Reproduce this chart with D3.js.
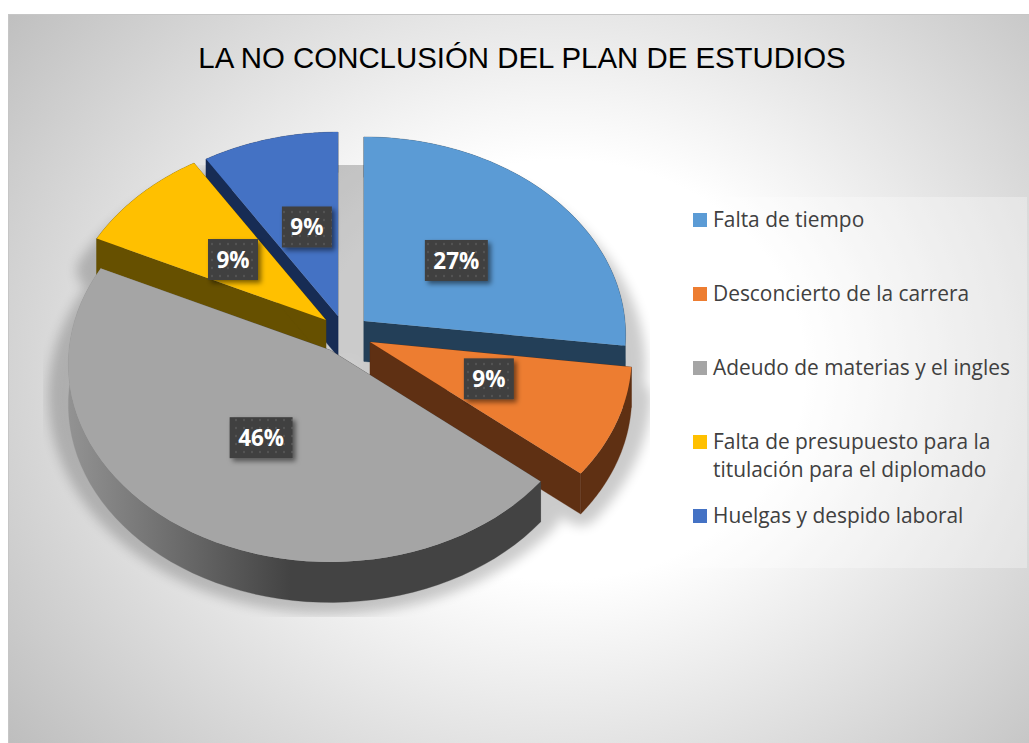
<!DOCTYPE html>
<html>
<head>
<meta charset="utf-8">
<script src="https://cdn.jsdelivr.net/npm/d3@7"></script>
<style>
html, body { margin: 0; padding: 0; background: #fff; }
svg { display: block; }
</style>
</head>
<body>
<div id="chart"></div>
<script>
/* La no conclusion del plan de estudios - exploded 3D pie */

var chartTitle = "LA NO CONCLUSIÓN DEL PLAN DE ESTUDIOS";
var categories = ["Falta de tiempo", "Desconcierto de la carrera", "Adeudo de materias y el ingles",
                  "Falta de presupuesto para la titulación para el diplomado", "Huelgas y despido laboral"];
var values = [27, 9, 46, 9, 9];
var legendLines = [["Falta de tiempo"], ["Desconcierto de la carrera"], ["Adeudo de materias y el ingles"],
                   ["Falta de presupuesto para la", "titulación para el diplomado"], ["Huelgas y despido laboral"]];
var topColors = ["#5b9bd5", "#ed7d31", "#a5a5a5", "#ffc000", "#4472c4"];
var wallColors = ["#233f58", "#5f3013", "url(#grayWall)", "#665000", "#172c54"];
var explodeX = [0.107, 0.113, 0.093, 0.087, 0.069];
var explodeY = [0.108, 0.09, 0.09, 0.115, 0.1];
var labelRadiusX = [0.494, 0.482, 0.463, 0.497, 0.456];
var labelRadiusY = [0.486, 0.457, 0.496, 0.486, 0.503];
var paintOrder = [4, 0, 3, 1, 2];

var width = 1029, height = 743;
var cx = 343, cy = 335;      // pie centre before explosion
var rx = 261, ry = 197;      // ellipse radii of the tilted pie
var persp = 0.0707;          // front of the pie looks bigger
var depth = 40.5;

var svg = d3.select("#chart").append("svg")
    .attr("width", width)
    .attr("height", height);

var defs = svg.append("defs");

var bg = defs.append("radialGradient")
    .attr("id", "bg")
    .attr("gradientUnits", "userSpaceOnUse")
    .attr("cx", 0).attr("cy", 0).attr("r", 1)
    .attr("gradientTransform", "translate(560,370) scale(700,600)");
bg.append("stop").attr("offset", "0.35").attr("stop-color", "#ffffff");
bg.append("stop").attr("offset", "1").attr("stop-color", "#bebebe");

var wallGrad = defs.append("linearGradient")
    .attr("id", "grayWall")
    .attr("gradientUnits", "userSpaceOnUse")
    .attr("x1", 70).attr("x2", 290).attr("y1", 0).attr("y2", 0);
wallGrad.append("stop").attr("offset", "0").attr("stop-color", "#929292");
wallGrad.append("stop").attr("offset", "1").attr("stop-color", "#434343");

defs.append("filter").attr("id", "pieBlur")
    .attr("x", "-20%").attr("y", "-20%").attr("width", "140%").attr("height", "140%")
    .append("feGaussianBlur").attr("stdDeviation", 6);

defs.append("clipPath").attr("id", "shadowClip")
    .append("rect").attr("x", 43).attr("y", 165).attr("width", 607).attr("height", 452);

var labelShadow = defs.append("filter").attr("id", "labelShadow")
    .attr("x", "-30%").attr("y", "-30%").attr("width", "170%").attr("height", "170%");
labelShadow.append("feDropShadow")
    .attr("dx", 3).attr("dy", 3).attr("stdDeviation", 2.5)
    .attr("flood-color", "#000").attr("flood-opacity", 0.5);

var dots = defs.append("pattern").attr("id", "dots")
    .attr("patternUnits", "userSpaceOnUse")
    .attr("width", 8).attr("height", 8);
dots.append("rect").attr("width", 8).attr("height", 8).attr("fill", "#404040");
dots.append("circle").attr("cx", 4).attr("cy", 4).attr("r", 1.2).attr("fill", "#525252");

// background
svg.append("rect")
    .attr("x", 8.5).attr("y", 14.5)
    .attr("width", width).attr("height", height)
    .attr("fill", "url(#bg)")
    .attr("stroke", "#c6c6c6");

// title
svg.append("text")
    .attr("x", 522).attr("y", 68)
    .attr("text-anchor", "middle")
    .style("font-family", "'Liberation Sans'")
    .style("font-size", "29.4px")
    .attr("fill", "#000")
    .text(chartTitle);

// pie
var arcs = d3.pie().sort(null)(values);
var line = d3.line();

function apexOf(d, i) {
    var mid = (d.startAngle + d.endAngle) / 2;
    return [cx + explodeX[i] * rx * Math.sin(mid), cy - explodeY[i] * ry * Math.cos(mid)];
}

function rimPoint(apex, a, kx, ky) {
    var u = Math.sin(a), v = -Math.cos(a);
    var s = 1 / (1 - persp * v);
    return [apex[0] + kx * rx * u * s, apex[1] + ky * ry * v * s];
}

function rimPoints(d, i) {
    var apex = apexOf(d, i);
    return d3.range(0, 61).map(function(t) {
        return rimPoint(apex, d.startAngle + (d.endAngle - d.startAngle) * t / 60, 1, 1);
    });
}

function shift(pts) {
    return pts.map(function(p) { return [p[0], p[1] + depth]; });
}

function band(pts) {
    return line(pts.concat(shift(pts).reverse())) + "Z";
}

var slices = arcs.map(function(d, i) {
    var apex = apexOf(d, i);
    var rim = rimPoints(d, i);
    return {
        index: i,
        top: line([apex].concat(rim)) + "Z",
        walls: [band(rim), band([apex, rim[0]]), band([apex, rim[rim.length - 1]])]
    };
});

// soft shadow: top faces pushed down, cut off square like the original
var shadow = svg.append("g")
    .attr("clip-path", "url(#shadowClip)")
    .append("g")
    .attr("filter", "url(#pieBlur)")
    .attr("opacity", 0.2)
    .attr("transform", "translate(0,32)");
slices.forEach(function(s) {
    shadow.append("path").attr("d", s.top)
        .attr("fill", "#000").attr("stroke", "#000")
        .attr("stroke-width", 40).attr("stroke-linejoin", "round");
});

var pie = svg.append("g").attr("class", "pie");
paintOrder.forEach(function(i) {
    var g = pie.append("g").attr("class", "slice");
    g.selectAll("path.wall").data(slices[i].walls).enter().append("path")
        .attr("class", "wall")
        .attr("d", function(p) { return p; })
        .attr("fill", wallColors[i])
        .attr("stroke", wallColors[i])
        .attr("stroke-width", 0.3);
    g.append("path")
        .attr("d", slices[i].top)
        .attr("fill", topColors[i]);
});

// value labels
var labels = svg.append("g").attr("class", "labels");
arcs.forEach(function(d, i) {
    var mid = (d.startAngle + d.endAngle) / 2;
    var pos = rimPoint(apexOf(d, i), mid, labelRadiusX[i], labelRadiusY[i]);
    var w = values[i] >= 10 ? 63 : 50, h = 41;
    labels.append("rect")
        .attr("x", pos[0] - w / 2).attr("y", pos[1] - h / 2)
        .attr("width", w).attr("height", h)
        .attr("fill", "url(#dots)")
        .attr("filter", "url(#labelShadow)");
    labels.append("text")
        .attr("x", pos[0]).attr("y", pos[1] + 8.5)
        .attr("text-anchor", "middle")
        .style("font-family", "'Open Sans'")
        .style("font-weight", "700")
        .style("font-size", "22.5px")
        .attr("fill", "#fff")
        .text(values[i] + "%");
});

// legend
svg.append("rect")
    .attr("x", 681).attr("y", 197)
    .attr("width", 346).attr("height", 371)
    .attr("fill", "#fff").attr("fill-opacity", 0.3);

var legendY = d3.scalePoint()
    .domain(categories)
    .range([220, 516]);

var legend = svg.append("g").attr("class", "legend");
categories.forEach(function(c, i) {
    var y = legendY(c);
    legend.append("rect")
        .attr("x", 693).attr("y", y - 7)
        .attr("width", 14).attr("height", 14)
        .attr("fill", topColors[i]);
    legendLines[i].forEach(function(t, j) {
        legend.append("text")
            .attr("x", 713).attr("y", y + 7 + j * 28.4)
            .style("font-family", "'Open Sans'")
            .style("font-size", "20.9px")
            .attr("fill", "#404040")
            .text(t);
    });
});
</script>
</body>
</html>
